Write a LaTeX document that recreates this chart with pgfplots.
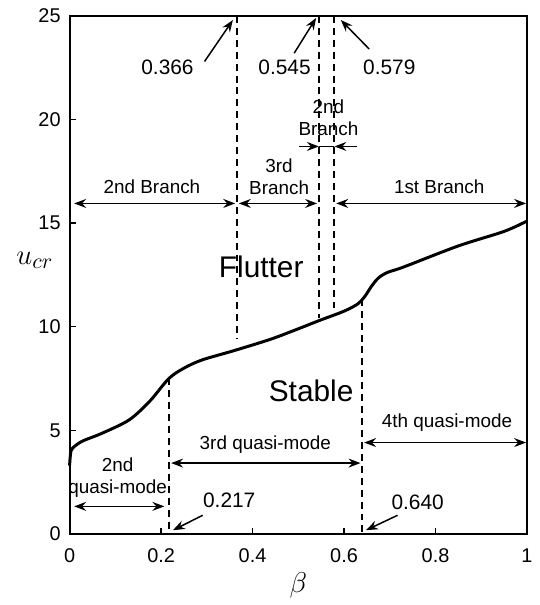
\documentclass[border=0pt]{standalone}
\usepackage{pgfplots}
\pgfplotsset{compat=1.18}
\usepackage{fontspec}
\setmainfont{Liberation Sans}
\usetikzlibrary{arrows.meta,calc}
\begin{document}
\begin{tikzpicture}[
  arr/.style={line width=0.75pt,-{Stealth[length=6pt,width=4.5pt,inset=2pt]}},
  darr/.style={line width=0.75pt,{Stealth[length=6pt,width=4.5pt,inset=2pt]}-{Stealth[length=6pt,width=4.5pt,inset=2pt]}},
  dsh/.style={line width=0.95pt,dash pattern=on 3.5pt off 2.5pt},
  lab/.style={font=\fontsize{9.5}{11}\selectfont,align=center,inner sep=0pt}
]
\begin{axis}[
  name=ax,
  scale only axis,
  width=230pt, height=260.5pt,
  xmin=0, xmax=1, ymin=0, ymax=25,
  xtick={0,0.2,0.4,0.6,0.8,1},
  xticklabels={0,0.2,0.4,0.6,0.8,1},
  ytick={0,5,10,15,20,25},
  tick align=inside,
  tick pos=left,
  major tick length=3pt,
  axis line style={line width=1pt},
  tick style={line width=0.7pt,black},
  /pgf/number format/assume math mode=true,
  ticklabel style={font=\fontsize{10}{12}\selectfont},
  xticklabel style={yshift=-4pt},
  yticklabel style={xshift=-1pt},
  xlabel={$\beta$},
  xlabel style={font=\fontsize{15}{15}\selectfont, at={(axis description cs:0.5,0)}, anchor=center, yshift=-26pt},
  ylabel={$u_{cr}$},
  ylabel style={rotate=-90, font=\fontsize{15}{15}\selectfont, at={(axis description cs:0,0.528)}, anchor=center, xshift=-17.5pt},
  clip=false,
]
\addplot[black, line width=1.5pt, smooth, tension=0.5] coordinates {
 (0,3.3) (0.003,4.0) (0.012,4.25) (0.03,4.5) (0.07,4.85) (0.13,5.5) (0.175,6.4) (0.217,7.5)
 (0.25,8.0) (0.29,8.4) (0.36,8.85) (0.44,9.4) (0.5,9.9) (0.546,10.3) (0.6,10.75) (0.63,11.1)
 (0.645,11.45) (0.66,11.95) (0.675,12.35) (0.695,12.62) (0.73,12.88) (0.85,13.9) (0.95,14.6) (1.0,15.1)
};
% dashed boundaries
\draw[dsh] (axis cs:0.366,25) -- (axis cs:0.366,9.4);
\draw[dsh] (axis cs:0.545,25) -- (axis cs:0.545,10.4);
\draw[dsh] (axis cs:0.579,25) -- (axis cs:0.579,10.9);
\draw[dsh] (axis cs:0.217,7.5) -- (axis cs:0.217,0);
\draw[dsh] (axis cs:0.640,11.35) -- (axis cs:0.640,0);
% top value labels
\node[lab,font=\fontsize{10.5}{12}\selectfont] at (axis cs:0.214,22.5) {0.366};
\draw[arr] (axis cs:0.295,22.8) -- (axis cs:0.357,24.8);
\node[lab,font=\fontsize{10.5}{12}\selectfont] at (axis cs:0.470,22.5) {0.545};
\draw[arr] (axis cs:0.491,23.2) -- (axis cs:0.539,24.9);
\node[lab,font=\fontsize{10.5}{12}\selectfont] at (axis cs:0.699,22.5) {0.579};
\draw[arr] (axis cs:0.655,23.4) -- (axis cs:0.593,24.8);
% branches
\draw[darr] (axis cs:0.01,15.95) -- (axis cs:0.362,15.95);
\node[lab] at (axis cs:0.18,16.75) {2nd Branch};
\draw[darr] (axis cs:0.370,15.95) -- (axis cs:0.541,15.95);
\node[lab] at (axis cs:0.458,17.25) {3rd\\Branch};
\draw[darr] (axis cs:0.583,15.95) -- (axis cs:0.998,15.95);
\node[lab] at (axis cs:0.808,16.75) {1st Branch};
\draw[arr] (axis cs:0.502,18.7) -- (axis cs:0.545,18.7);
\draw[arr] (axis cs:0.629,18.7) -- (axis cs:0.579,18.7);
\draw[line width=0.75pt] (axis cs:0.545,18.7) -- (axis cs:0.579,18.7);
\node[lab] at (axis cs:0.566,20.1) {2nd\\Branch};
% regions
\node[lab,font=\fontsize{15}{17}\selectfont] at (axis cs:0.419,12.9) {Flutter};
\node[lab,font=\fontsize{15}{17}\selectfont] at (axis cs:0.528,6.9) {Stable};
% quasi-modes
\draw[darr] (axis cs:0.222,3.42) -- (axis cs:0.636,3.42);
\node[lab] at (axis cs:0.428,4.3) {3rd quasi-mode};
\draw[darr] (axis cs:0.644,4.41) -- (axis cs:0.998,4.41);
\node[lab] at (axis cs:0.825,5.35) {4th quasi-mode};
\draw[darr] (axis cs:0.01,1.33) -- (axis cs:0.207,1.33);
\node[lab] at (axis cs:0.105,2.7) {2nd\\quasi-mode};
% bottom value labels
\node[lab,font=\fontsize{10.5}{12}\selectfont] at (axis cs:0.349,1.62) {0.217};
\draw[arr] (axis cs:0.291,0.9) -- (axis cs:0.226,0.18);
\node[lab,font=\fontsize{10.5}{12}\selectfont] at (axis cs:0.761,1.55) {0.640};
\draw[arr] (axis cs:0.717,0.9) -- (axis cs:0.648,0.18);
\end{axis}
\path ($(ax.south west)+(-35pt,-34pt)$) rectangle ($(ax.north east)+(1pt,8pt)$);
\end{tikzpicture}
\end{document}
